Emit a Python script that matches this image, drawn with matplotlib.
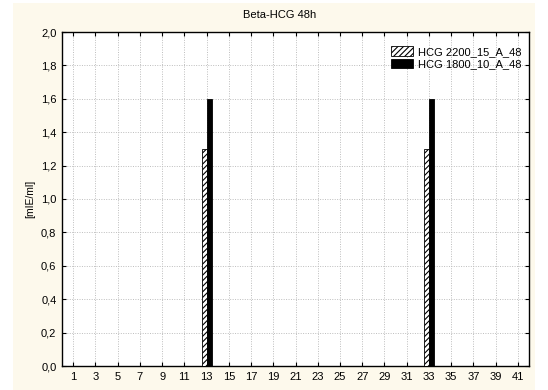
import numpy as np
import matplotlib
matplotlib.use("Agg")
import matplotlib.pyplot as plt
from matplotlib.patches import Rectangle
from matplotlib.ticker import FuncFormatter

plt.rcParams["font.family"] = ["Liberation Sans", "DejaVu Sans"]
plt.rcParams["hatch.linewidth"] = 0.8

# samples 1..41, only two of them have a measured value
samples = np.arange(1, 42)
hcg_2200 = np.zeros(len(samples))
hcg_1800 = np.zeros(len(samples))
hcg_2200[samples == 13] = 1.3
hcg_2200[samples == 33] = 1.3
hcg_1800[samples == 13] = 1.6
hcg_1800[samples == 33] = 1.6

series_names = ["HCG 2200_15_A_48", "HCG 1800_10_A_48"]
title = "Beta-HCG 48h"
y_label = "[mIE/ml]"

fig = plt.figure(figsize=(5.48, 3.90), dpi=100)
fig.patch.set_facecolor("white")
# cream panel behind the plot
fig.add_artist(Rectangle((13 / 548, 0), 522 / 548, 387 / 390,
                         transform=fig.transFigure, facecolor="#fdf9ec",
                         edgecolor="none", zorder=-10))

ax = fig.add_axes([62 / 548, 1 - 366 / 390, 467 / 548, 334 / 390])
ax.set_facecolor("white")

w = 0.45
ax.bar(samples - w / 2, hcg_2200, width=w, facecolor="white",
       edgecolor="black", hatch="//////", linewidth=0.6,
       label=series_names[0], zorder=3)
ax.bar(samples + w / 2, hcg_1800, width=w, facecolor="black",
       edgecolor="black", linewidth=0.6, label=series_names[1], zorder=3)

ax.set_xlim(0, 42)
ax.set_ylim(0, 2.0)
ax.set_xticks(samples[::2])
ax.set_yticks(np.arange(0, 2.01, 0.2))
ax.yaxis.set_major_formatter(FuncFormatter(lambda v, p: f"{v:.1f}".replace(".", ",")))

ax.grid(True, color="#bdbdbd", linestyle=(0, (1, 1.5)), linewidth=0.7, zorder=0)
ax.tick_params(axis="both", labelsize=8, direction="in", length=3,
               width=0.8, top=True, right=True, pad=4)
for spine in ax.spines.values():
    spine.set_linewidth(1.0)

ax.set_ylabel(y_label, fontsize=7.5, labelpad=4)
fig.text(280 / 548, 1 - 15 / 390, title, ha="center", va="center", fontsize=8)

leg = ax.legend(loc="upper right", bbox_to_anchor=(1.0, 0.98), frameon=False,
                fontsize=8, handlelength=2.0, handleheight=0.9,
                handletextpad=0.4, labelspacing=0.15, borderaxespad=0.3)

fig.savefig("out.png", dpi=100, facecolor=fig.get_facecolor())
